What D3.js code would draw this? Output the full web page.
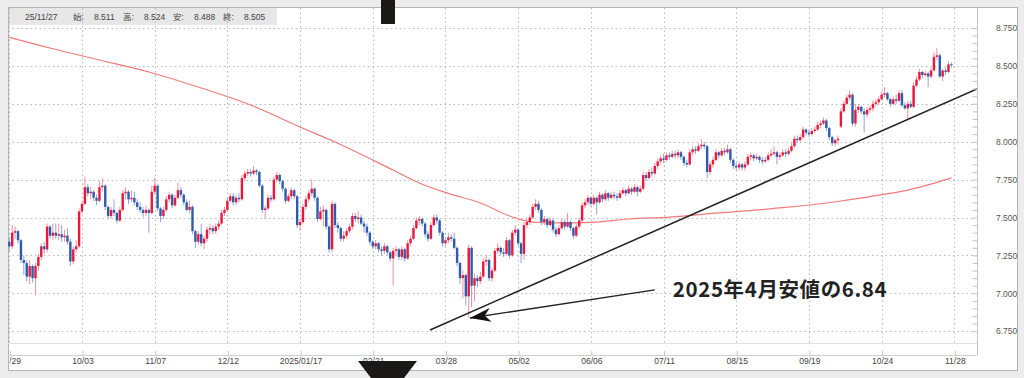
<!DOCTYPE html>
<html>
<head>
<meta charset="utf-8">
<script src="https://cdn.jsdelivr.net/npm/d3@7"></script>
<style>
  html, body { margin: 0; padding: 0; background: #ececec; }
  svg { display: block; font-family: "Liberation Sans", "DejaVu Sans", sans-serif; }
</style>
</head>
<body>
<div id="chart"></div>
<script>
// x labels, one every 25 bars
var tickLabels = ["08/29", "10/03", "11/07", "12/12", "2025/01/17", "02/21", "03/28",
    "05/02", "06/06", "07/11", "08/15", "09/19", "10/24", "11/28"];
var yTicks = [6.75, 7.0, 7.25, 7.5, 7.75, 8.0, 8.25, 8.5, 8.75];

// daily candles, 2024/08/29 .. 2025/11/27
var opens = [
    7.34,7.31,7.40,7.41,7.35,7.22,7.20,7.11,7.18,7.10,7.18,7.24,7.31,7.29,7.44,7.38,7.40,7.38,7.39,7.37,7.38,7.34,7.21,7.29,7.31,
    7.54,7.59,7.70,7.66,7.67,7.63,7.61,7.70,7.71,7.57,7.51,7.55,7.53,7.48,7.55,7.66,7.67,7.62,7.63,7.60,7.57,7.55,7.53,7.55,7.53,
    7.67,7.71,7.56,7.51,7.55,7.62,7.65,7.58,7.63,7.68,7.65,7.60,7.55,7.57,7.41,7.34,7.39,7.33,7.36,7.42,7.43,7.41,7.44,7.46,7.53,
    7.55,7.61,7.64,7.60,7.63,7.62,7.76,7.79,7.80,7.79,7.81,7.80,7.71,7.55,7.56,7.63,7.62,7.75,7.78,7.74,7.69,7.61,7.64,7.68,7.64,
    7.45,7.47,7.57,7.62,7.66,7.69,7.63,7.49,7.54,7.55,7.44,7.29,7.59,7.45,7.43,7.36,7.38,7.41,7.44,7.51,7.49,7.50,7.46,7.44,7.40,
    7.34,7.31,7.33,7.29,7.28,7.31,7.27,7.23,7.28,7.29,7.24,7.29,7.23,7.33,7.36,7.43,7.48,7.49,7.46,7.39,7.36,7.45,7.50,7.48,7.40,
    7.33,7.35,7.37,7.36,7.30,7.20,7.10,7.12,6.98,7.30,7.05,7.10,7.08,7.11,7.21,7.22,7.10,7.15,7.28,7.30,7.27,7.26,7.35,7.25,7.40,
    7.42,7.33,7.26,7.45,7.47,7.50,7.57,7.59,7.55,7.47,7.49,7.45,7.48,7.42,7.39,7.43,7.47,7.44,7.47,7.43,7.38,7.44,7.48,7.58,7.60,
    7.63,7.59,7.63,7.60,7.65,7.62,7.66,7.63,7.65,7.64,7.63,7.66,7.68,7.66,7.69,7.67,7.70,7.67,7.69,7.78,7.76,7.80,7.79,7.84,7.87,
    7.89,7.88,7.91,7.90,7.92,7.91,7.93,7.90,7.86,7.85,7.93,7.95,7.94,7.97,7.98,7.97,7.80,7.85,7.88,7.93,7.91,7.94,7.93,7.95,7.88,
    7.84,7.83,7.85,7.83,7.85,7.90,7.91,7.89,7.90,7.88,7.87,7.88,7.91,7.92,7.93,7.90,7.91,7.93,7.92,7.94,7.97,8.02,8.01,8.03,8.08,
    8.06,8.05,8.07,8.08,8.11,8.12,8.14,8.09,8.03,7.99,8.01,8.10,8.20,8.25,8.29,8.31,8.12,8.21,8.23,8.20,8.18,8.21,8.22,8.25,8.26,
    8.28,8.31,8.32,8.28,8.25,8.28,8.27,8.32,8.24,8.22,8.25,8.23,8.37,8.41,8.46,8.44,8.45,8.43,8.47,8.56,8.57,8.43,8.47,8.46,8.511
];
var highs = [
    7.36,7.45,7.44,7.42,7.36,7.25,7.22,7.22,7.19,7.20,7.26,7.33,7.34,7.46,7.45,7.46,7.46,7.46,7.45,7.42,7.43,7.36,7.31,7.35,7.56,
    7.61,7.77,7.72,7.70,7.68,7.65,7.74,7.76,7.72,7.58,7.57,7.62,7.54,7.57,7.68,7.70,7.68,7.68,7.67,7.62,7.60,7.57,7.58,7.56,7.71,
    7.76,7.72,7.57,7.57,7.64,7.67,7.66,7.65,7.73,7.70,7.66,7.62,7.61,7.58,7.42,7.41,7.46,7.38,7.44,7.46,7.45,7.46,7.48,7.55,7.57,
    7.63,7.66,7.66,7.65,7.66,7.78,7.81,7.82,7.82,7.84,7.82,7.81,7.72,7.58,7.65,7.65,7.77,7.80,7.79,7.75,7.70,7.66,7.70,7.69,7.65,
    7.49,7.59,7.64,7.68,7.75,7.70,7.64,7.57,7.58,7.56,7.45,7.61,7.60,7.47,7.44,7.41,7.43,7.46,7.53,7.53,7.54,7.52,7.48,7.46,7.41,
    7.35,7.35,7.34,7.31,7.33,7.32,7.28,7.30,7.31,7.30,7.31,7.30,7.35,7.38,7.45,7.50,7.51,7.50,7.47,7.41,7.47,7.52,7.52,7.49,7.41,
    7.37,7.40,7.39,7.40,7.31,7.21,7.15,7.13,7.32,7.31,7.13,7.12,7.14,7.23,7.25,7.23,7.17,7.30,7.33,7.31,7.30,7.37,7.36,7.42,7.45,
    7.43,7.34,7.47,7.49,7.52,7.59,7.62,7.61,7.56,7.51,7.50,7.50,7.49,7.44,7.45,7.49,7.49,7.53,7.48,7.44,7.46,7.50,7.60,7.62,7.65,
    7.64,7.65,7.64,7.67,7.66,7.68,7.67,7.67,7.67,7.66,7.68,7.70,7.69,7.71,7.70,7.72,7.71,7.71,7.80,7.80,7.82,7.83,7.86,7.89,7.91,
    7.92,7.93,7.93,7.94,7.94,7.95,7.94,7.91,7.88,7.95,7.97,7.97,7.99,8.02,8.00,7.98,7.87,7.90,7.95,7.94,7.96,7.96,7.98,7.96,7.89,
    7.86,7.87,7.86,7.87,7.92,7.93,7.92,7.92,7.91,7.90,7.90,7.93,7.95,7.97,7.94,7.93,7.95,7.95,7.96,7.99,8.04,8.04,8.05,8.10,8.09,
    8.08,8.09,8.10,8.13,8.14,8.16,8.15,8.10,8.04,8.02,8.04,8.22,8.27,8.31,8.34,8.32,8.25,8.25,8.24,8.22,8.23,8.24,8.27,8.28,8.30,
    8.33,8.36,8.33,8.29,8.30,8.31,8.34,8.34,8.26,8.27,8.27,8.39,8.43,8.48,8.47,8.47,8.46,8.49,8.59,8.62,8.58,8.48,8.49,8.53,8.524
];
var lows = [
    7.28,7.29,7.36,7.33,7.20,7.12,7.08,7.06,7.07,6.99,7.15,7.22,7.26,7.27,7.36,7.35,7.36,7.35,7.34,7.34,7.32,7.18,7.19,7.27,7.30,
    7.52,7.58,7.64,7.62,7.61,7.58,7.60,7.67,7.55,7.49,7.49,7.51,7.46,7.47,7.54,7.62,7.59,7.60,7.58,7.55,7.53,7.50,7.51,7.40,7.52,
    7.65,7.54,7.47,7.49,7.54,7.60,7.56,7.57,7.62,7.63,7.58,7.54,7.53,7.39,7.30,7.32,7.31,7.29,7.34,7.39,7.39,7.39,7.42,7.45,7.51,
    7.54,7.60,7.58,7.58,7.60,7.61,7.74,7.77,7.77,7.78,7.78,7.70,7.53,7.49,7.55,7.60,7.61,7.73,7.72,7.67,7.59,7.60,7.62,7.62,7.43,
    7.41,7.46,7.55,7.60,7.64,7.61,7.47,7.48,7.44,7.42,7.27,7.27,7.43,7.40,7.34,7.34,7.36,7.40,7.42,7.47,7.46,7.45,7.40,7.38,7.32,
    7.29,7.29,7.27,7.25,7.26,7.25,7.21,7.05,7.25,7.22,7.22,7.21,7.22,7.31,7.35,7.42,7.45,7.44,7.37,7.34,7.35,7.44,7.46,7.38,7.31,
    7.31,7.33,7.34,7.29,7.18,7.06,6.97,6.92,6.84,6.91,6.95,7.04,7.06,7.10,7.18,7.08,7.08,7.14,7.26,7.25,7.24,7.25,7.23,7.24,7.38,
    7.31,7.20,7.22,7.43,7.45,7.49,7.55,7.53,7.45,7.45,7.43,7.44,7.40,7.37,7.38,7.42,7.42,7.43,7.41,7.36,7.37,7.43,7.47,7.56,7.58,
    7.57,7.58,7.52,7.59,7.60,7.61,7.61,7.62,7.62,7.61,7.62,7.65,7.64,7.65,7.65,7.66,7.64,7.66,7.68,7.74,7.75,7.77,7.78,7.82,7.85,
    7.86,7.87,7.88,7.89,7.89,7.89,7.88,7.84,7.83,7.84,7.91,7.92,7.93,7.95,7.95,7.76,7.78,7.83,7.87,7.89,7.90,7.91,7.92,7.86,7.82,
    7.81,7.81,7.81,7.81,7.84,7.88,7.87,7.88,7.86,7.85,7.86,7.87,7.90,7.91,7.85,7.88,7.90,7.90,7.91,7.93,7.96,7.99,8.00,8.02,8.04,
    8.03,8.04,8.06,8.07,8.09,8.11,8.07,8.01,7.97,7.97,7.98,8.09,8.19,8.24,8.27,8.10,8.10,8.19,8.18,8.06,8.16,8.19,8.20,8.23,8.24,
    8.27,8.29,8.27,8.23,8.24,8.25,8.26,8.23,8.21,8.14,8.22,8.22,8.36,8.40,8.42,8.43,8.36,8.42,8.46,8.54,8.42,8.40,8.44,8.45,8.488
];
var closes = [
    7.31,7.40,7.41,7.35,7.22,7.20,7.11,7.18,7.10,7.18,7.24,7.31,7.29,7.44,7.38,7.40,7.38,7.39,7.37,7.38,7.34,7.21,7.29,7.31,7.54,
    7.59,7.70,7.66,7.67,7.63,7.61,7.70,7.71,7.57,7.51,7.55,7.53,7.48,7.55,7.66,7.67,7.62,7.63,7.60,7.57,7.55,7.53,7.55,7.53,7.67,
    7.71,7.56,7.51,7.55,7.62,7.65,7.58,7.63,7.68,7.65,7.60,7.55,7.57,7.41,7.34,7.39,7.33,7.36,7.42,7.43,7.41,7.44,7.46,7.53,7.55,
    7.61,7.64,7.60,7.63,7.62,7.76,7.79,7.80,7.79,7.81,7.80,7.71,7.55,7.56,7.63,7.62,7.75,7.78,7.74,7.69,7.61,7.64,7.68,7.64,7.45,
    7.47,7.57,7.62,7.66,7.69,7.63,7.49,7.54,7.55,7.44,7.29,7.59,7.45,7.43,7.36,7.38,7.41,7.44,7.51,7.49,7.50,7.46,7.44,7.40,7.34,
    7.31,7.33,7.29,7.28,7.31,7.27,7.23,7.28,7.29,7.24,7.29,7.23,7.33,7.36,7.43,7.48,7.49,7.46,7.39,7.36,7.45,7.50,7.48,7.40,7.33,
    7.35,7.37,7.36,7.30,7.20,7.10,7.12,6.98,7.30,7.05,7.10,7.08,7.11,7.21,7.22,7.10,7.15,7.28,7.30,7.27,7.26,7.35,7.25,7.40,7.42,
    7.33,7.26,7.45,7.47,7.50,7.57,7.59,7.55,7.47,7.49,7.45,7.48,7.42,7.39,7.43,7.47,7.44,7.47,7.43,7.38,7.44,7.48,7.58,7.60,7.63,
    7.59,7.63,7.60,7.65,7.62,7.66,7.63,7.65,7.64,7.63,7.66,7.68,7.66,7.69,7.67,7.70,7.67,7.69,7.78,7.76,7.80,7.79,7.84,7.87,7.89,
    7.88,7.91,7.90,7.92,7.91,7.93,7.90,7.86,7.85,7.93,7.95,7.94,7.97,7.98,7.97,7.80,7.85,7.88,7.93,7.91,7.94,7.93,7.95,7.88,7.84,
    7.83,7.85,7.83,7.85,7.90,7.91,7.89,7.90,7.88,7.87,7.88,7.91,7.92,7.93,7.90,7.91,7.93,7.92,7.94,7.97,8.02,8.01,8.03,8.08,8.06,
    8.05,8.07,8.08,8.11,8.12,8.14,8.09,8.03,7.99,8.01,8.02,8.20,8.25,8.29,8.31,8.12,8.21,8.23,8.20,8.18,8.21,8.22,8.25,8.26,8.28,
    8.31,8.32,8.28,8.25,8.28,8.27,8.32,8.24,8.22,8.25,8.23,8.37,8.41,8.46,8.44,8.45,8.43,8.47,8.56,8.57,8.43,8.47,8.46,8.51,8.505
];

// long moving average, read at a few bars
var maIdx  = [0, 14, 31, 48, 66, 83, 100, 112, 132, 141, 150.5, 162, 173, 180, 190, 202, 213, 227, 244, 265, 286, 299, 309, 324];
var maVals = [8.689, 8.618, 8.539, 8.460, 8.354, 8.242, 8.097, 7.998, 7.813, 7.728, 7.662, 7.596, 7.503, 7.470,
    7.464, 7.470, 7.490, 7.503, 7.530, 7.563, 7.609, 7.648, 7.681, 7.761];

// hand drawn trend line and arrow (bar index, price)
var trendIdx = [144.7, 332.8];
var trendVals = [6.758, 8.348];
var arrowIdx = [222.0, 158.4];
var arrowVals = [7.022, 6.837];
var noteText = "2025年4月安値の6.84";
var lastDate = "25/11/27";

var W = 1024, H = 378;
var plot = { left: 8, right: 977, top: 8, bottom: 343 };

var svg = d3.select("#chart").append("svg")
    .attr("width", W)
    .attr("height", H);

var defs = svg.append("defs");
defs.append("clipPath").attr("id", "plotClip")
    .append("rect")
    .attr("x", plot.left).attr("y", plot.top)
    .attr("width", plot.right - plot.left).attr("height", plot.bottom - plot.top);
defs.append("clipPath").attr("id", "panelClip")
    .append("rect")
    .attr("x", 9).attr("y", 8).attr("width", 1008).attr("height", 362);

defs.append("marker")
    .attr("id", "arrowHead")
    .attr("markerUnits", "userSpaceOnUse")
    .attr("viewBox", "-22 -8 24 16")
    .attr("refX", 0).attr("refY", 0)
    .attr("markerWidth", 24).attr("markerHeight", 16)
    .attr("orient", "auto")
    .append("path")
    .attr("d", "M0,0 L-21,-7 L-15,0 L-21,7 Z")
    .attr("fill", "#111");

// panel
svg.append("rect")
    .attr("x", 8.5).attr("y", 7.5)
    .attr("width", 1009).attr("height", 363)
    .attr("fill", "#fff")
    .attr("stroke", "#b4b4b4");

var x = d3.scaleLinear().domain([0, 325]).range([9.3, 954.3]);
var y = d3.scaleLinear().domain([6.75, 8.75]).range([331.2, 28]);

// info box at the top left
svg.append("rect")
    .attr("x", 9).attr("y", 8)
    .attr("width", 268).attr("height", 17)
    .attr("fill", "#e7e7e7");

// grid
var grid = svg.append("g").attr("clip-path", "url(#plotClip)");
grid.selectAll(".hgrid")
    .data(yTicks)
    .enter().append("line")
    .attr("class", "hgrid")
    .attr("x1", plot.left).attr("x2", plot.right - 2)
    .attr("y1", function(d) { return Math.round(y(d)) + 0.5; })
    .attr("y2", function(d) { return Math.round(y(d)) + 0.5; })
    .attr("stroke", "#b9b9b9")
    .attr("stroke-dasharray", "1.5,3");

var xTickIdx = d3.range(0, 326, 25);
grid.selectAll(".vgrid")
    .data(xTickIdx)
    .enter().append("line")
    .attr("class", "vgrid")
    .attr("x1", function(d) { return Math.round(x(d)) + 0.5; })
    .attr("x2", function(d) { return Math.round(x(d)) + 0.5; })
    .attr("y1", plot.top).attr("y2", plot.bottom)
    .attr("stroke", "#b9b9b9")
    .attr("stroke-dasharray", "1.5,3");

// info texts
var f3 = d3.format(".3f");
var last = opens.length - 1;
var infoItems = [
    { t: lastDate, x: 25 },
    { t: "始:", x: 73 }, { t: f3(opens[last]), x: 94 },
    { t: "高:", x: 123 }, { t: f3(highs[last]), x: 144 },
    { t: "安:", x: 173 }, { t: f3(lows[last]), x: 194 },
    { t: "終:", x: 223 }, { t: f3(closes[last]), x: 244 }
];
svg.selectAll(".info")
    .data(infoItems)
    .enter().append("text")
    .attr("class", "info")
    .attr("x", function(d) { return d.x; })
    .attr("y", 17)
    .attr("dy", "0.35em")
    .style("font-size", "8.5px")
    .style("font-family", "'Liberation Sans', 'Noto Sans CJK JP', sans-serif")
    .attr("fill", "#444")
    .text(function(d) { return d.t; });

// moving average
var maLine = d3.line()
    .x(function(d) { return x(d[0]); })
    .y(function(d) { return y(d[1]); })
    .curve(d3.curveMonotoneX);

var marks = svg.append("g").attr("clip-path", "url(#plotClip)");

marks.append("path")
    .datum(d3.zip(maIdx, maVals))
    .attr("d", maLine)
    .attr("fill", "none")
    .attr("stroke", "#f07a7a")
    .attr("stroke-width", 1.2);

// candles
var bars = d3.range(opens.length).map(function(i) {
    return { i: i, o: opens[i], h: highs[i], l: lows[i], c: closes[i] };
});
var upCol = "#e8193d", dnCol = "#2b5cae";
var upWick = "#f2909f", dnWick = "#8ea6d4";

var candle = marks.selectAll(".candle")
    .data(bars)
    .enter().append("g")
    .attr("class", "candle");

candle.append("line")
    .attr("x1", function(d) { return x(d.i); })
    .attr("x2", function(d) { return x(d.i); })
    .attr("y1", function(d) { return y(d.h); })
    .attr("y2", function(d) { return y(d.l); })
    .attr("stroke", function(d) { return d.c >= d.o ? upWick : dnWick; })
    .attr("stroke-width", 1);

candle.append("rect")
    .attr("x", function(d) { return x(d.i) - 1.2; })
    .attr("width", 2.4)
    .attr("y", function(d) { return y(Math.max(d.o, d.c)); })
    .attr("height", function(d) { return Math.max(1, Math.abs(y(d.o) - y(d.c))); })
    .attr("fill", function(d) { return d.c >= d.o ? upCol : dnCol; });

// trend line
marks.append("line")
    .attr("x1", x(trendIdx[0])).attr("y1", y(trendVals[0]))
    .attr("x2", x(trendIdx[1])).attr("y2", y(trendVals[1]))
    .attr("stroke", "#222")
    .attr("stroke-width", 1.5);

// arrow to the April low
svg.append("line")
    .attr("x1", x(arrowIdx[0])).attr("y1", y(arrowVals[0]))
    .attr("x2", x(arrowIdx[1])).attr("y2", y(arrowVals[1]))
    .attr("stroke", "#222")
    .attr("stroke-width", 1.3)
    .attr("marker-end", "url(#arrowHead)");

svg.append("text")
    .attr("x", x(228.2))
    .attr("y", y(6.976))
    .style("font-family", "'Noto Sans CJK JP', sans-serif")
    .style("font-weight", "bold")
    .style("font-size", "20.5px")
    .style("letter-spacing", "0.6px")
    .attr("fill", "#222")
    .text(noteText);

// right axis: line, minor ticks, labels
var yMinor = d3.range(6.75, 8.751, 0.05);
var yAxisMinor = d3.axisLeft(y)
    .tickValues(yMinor)
    .tickSize(5)
    .tickFormat("");
var gyMinor = svg.append("g")
    .attr("transform", "translate(" + (plot.right + 0.5) + ",0)")
    .call(yAxisMinor);
gyMinor.select(".domain").remove();
gyMinor.selectAll(".tick line").attr("stroke", "#c4c4c4");

svg.append("line")
    .attr("x1", plot.right + 0.5).attr("x2", plot.right + 0.5)
    .attr("y1", plot.top).attr("y2", 355)
    .attr("stroke", "#c4c4c4");

var yAxis = d3.axisRight(y)
    .tickValues(yTicks)
    .tickSize(0)
    .tickPadding(19)
    .tickFormat(d3.format(".3f"));
var gy = svg.append("g")
    .attr("transform", "translate(" + plot.right + ",0)")
    .call(yAxis);
gy.select(".domain").remove();
gy.selectAll("text")
    .style("font-size", "8.5px")
    .style("font-family", "'Liberation Sans', sans-serif")
    .attr("fill", "#555");

// bottom axis
svg.append("line")
    .attr("x1", plot.left).attr("x2", plot.right)
    .attr("y1", plot.bottom + 0.5).attr("y2", plot.bottom + 0.5)
    .attr("stroke", "#e2e2e2");
svg.append("line")
    .attr("x1", plot.left).attr("x2", plot.right)
    .attr("y1", 355.5).attr("y2", 355.5)
    .attr("stroke", "#cfcfcf");

var xAxisMinor = d3.axisBottom(x)
    .tickValues(d3.range(0, 326, 5))
    .tickSize(4)
    .tickFormat("");
var gxMinor = svg.append("g")
    .attr("clip-path", "url(#panelClip)")
    .attr("transform", "translate(0.5,351)")
    .call(xAxisMinor);
gxMinor.select(".domain").remove();
gxMinor.selectAll(".tick line").attr("stroke", "#c4c4c4");

var xAxis = d3.axisBottom(x)
    .tickValues(xTickIdx)
    .tickSize(12)
    .tickPadding(3)
    .tickFormat(function(d, i) { return tickLabels[i]; });
var gx = svg.append("g")
    .attr("clip-path", "url(#panelClip)")
    .attr("transform", "translate(0.5," + plot.bottom + ")")
    .call(xAxis);
gx.select(".domain").remove();
gx.selectAll(".tick line").attr("stroke", "#c4c4c4");
gx.selectAll("text")
    .style("font-size", "8.5px")
    .style("font-family", "'Liberation Sans', sans-serif")
    .attr("fill", "#444");

// scroll markers at top and bottom
svg.append("rect")
    .attr("x", 381).attr("y", 0)
    .attr("width", 14).attr("height", 24)
    .attr("fill", "#1b1818");
svg.append("path")
    .attr("d", "M358,361 L417,361 L404,378 L371,378 Z")
    .attr("fill", "#1b1818");
</script>
</body>
</html>
